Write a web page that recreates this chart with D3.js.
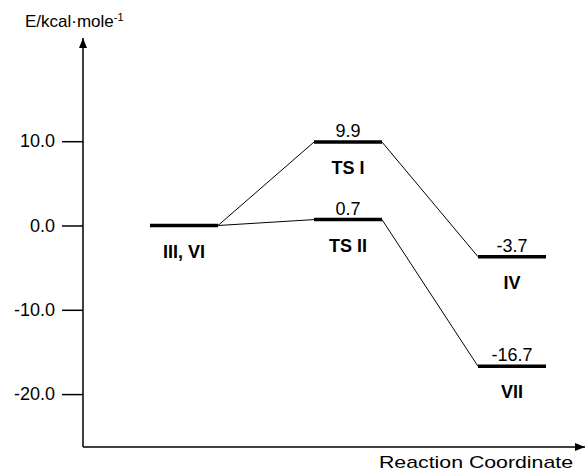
<!DOCTYPE html>
<html>
<head>
<meta charset="utf-8">
<script src="https://cdn.jsdelivr.net/npm/d3@7"></script>
<style>
  body { margin: 0; background: #fff; }
  text { font-family: "Liberation Sans", Arial, sans-serif; fill: #000; }
</style>
</head>
<body>
<div id="chart"></div>
<script>
// Data
var states   = ["III, VI", "TS I", "TS II", "IV", "VII"];
var energies = [0.0, 9.9, 0.7, -3.7, -16.7];
var stages   = [0, 1, 1, 2, 2];        // position along reaction coordinate
var showValue = [false, true, true, true, true];
var pathways = [["III, VI", "TS I", "IV"], ["III, VI", "TS II", "VII"]];
var yTicks   = [10, 0, -10, -20];

var width = 586, height = 474;
var axisX = 83, axisY = 447;

// plain hyphen for negatives, like the original
var fmt = d3.formatLocale({decimal: ".", thousands: ",", grouping: [3], currency: ["", ""], minus: "-"}).format(".1f");

var svg = d3.select("#chart").append("svg")
    .attr("width", width)
    .attr("height", height);

var defs = svg.append("defs");
defs.append("marker")
    .attr("id", "arrow")
    .attr("viewBox", "0 0 10 10")
    .attr("refX", 10).attr("refY", 5)
    .attr("markerWidth", 10).attr("markerHeight", 10)
    .attr("markerUnits", "userSpaceOnUse")
    .attr("orient", "auto")
  .append("path")
    .attr("d", "M0,1 L10,5 L0,9 Z")
    .style("fill", "#000");

// Scales
var x = d3.scaleLinear().domain([0, 2]).range([184, 512]);
var y = d3.scaleLinear().domain([0, 10]).range([225.5, 141.2]);
var halfBar = 34;

// Axes lines with arrows
svg.append("line")
    .attr("x1", axisX).attr("y1", axisY)
    .attr("x2", axisX).attr("y2", 38)
    .style("stroke", "#000").style("stroke-width", 1.5)
    .attr("marker-end", "url(#arrow)");
svg.append("line")
    .attr("x1", axisX).attr("y1", axisY)
    .attr("x2", 585).attr("y2", axisY)
    .style("stroke", "#000").style("stroke-width", 1.5)
    .attr("marker-end", "url(#arrow)");

// y ticks
var yAxis = d3.axisLeft(y)
    .tickValues(yTicks)
    .tickSize(21)
    .tickPadding(7)
    .tickFormat(fmt);
var gy = svg.append("g")
    .attr("transform", "translate(" + axisX + ",0)")
    .call(yAxis);
gy.select(".domain").remove();
gy.selectAll(".tick line").style("stroke", "#000").style("stroke-width", 1.5);
gy.selectAll(".tick text")
    .style("font-family", "'Liberation Sans', Arial, sans-serif")
    .style("font-size", "18px")
    .attr("fill", "#000");

// Axis titles
var yt = svg.append("text")
    .attr("x", 25).attr("y", 27)
    .style("font-size", "17px");
yt.append("tspan").text("E/kcal\u00b7mole");
yt.append("tspan").text("-1").attr("dy", -6).style("font-size", "11px");

svg.append("text")
    .attr("x", 379).attr("y", 468)
    .attr("textLength", 194)
    .attr("lengthAdjust", "spacingAndGlyphs")
    .style("font-size", "17px")
    .text("Reaction Coordinate");

// Records
var levels = states.map(function(s, i) {
    return { name: s, e: energies[i], stage: stages[i], show: showValue[i] };
});
var byName = {};
levels.forEach(function(d) { byName[d.name] = d; });

// Connectors
pathways.forEach(function(p) {
    for (var i = 0; i < p.length - 1; i++) {
        var a = byName[p[i]], b = byName[p[i + 1]];
        svg.append("line")
            .attr("x1", x(a.stage) + halfBar).attr("y1", y(a.e))
            .attr("x2", x(b.stage) - halfBar).attr("y2", y(b.e))
            .style("stroke", "#000").style("stroke-width", 1);
    }
});

// Level bars
var lv = svg.selectAll(".level")
    .data(levels)
    .enter().append("g")
    .attr("class", "level");

lv.append("line")
    .attr("x1", function(d) { return x(d.stage) - halfBar; })
    .attr("x2", function(d) { return x(d.stage) + halfBar; })
    .attr("y1", function(d) { return y(d.e); })
    .attr("y2", function(d) { return y(d.e); })
    .style("stroke", "#000").style("stroke-width", 3.5);

lv.filter(function(d) { return d.show; })
  .append("text")
    .attr("x", function(d) { return x(d.stage); })
    .attr("y", function(d) { return y(d.e) - 5; })
    .attr("text-anchor", "middle")
    .style("font-size", "18px")
    .text(function(d) { return fmt(d.e); });

lv.append("text")
    .attr("x", function(d) { return x(d.stage); })
    .attr("y", function(d) { return y(d.e) + 32; })
    .attr("text-anchor", "middle")
    .style("font-size", "18px")
    .style("font-weight", "bold")
    .text(function(d) { return d.name; });
</script>
</body>
</html>
